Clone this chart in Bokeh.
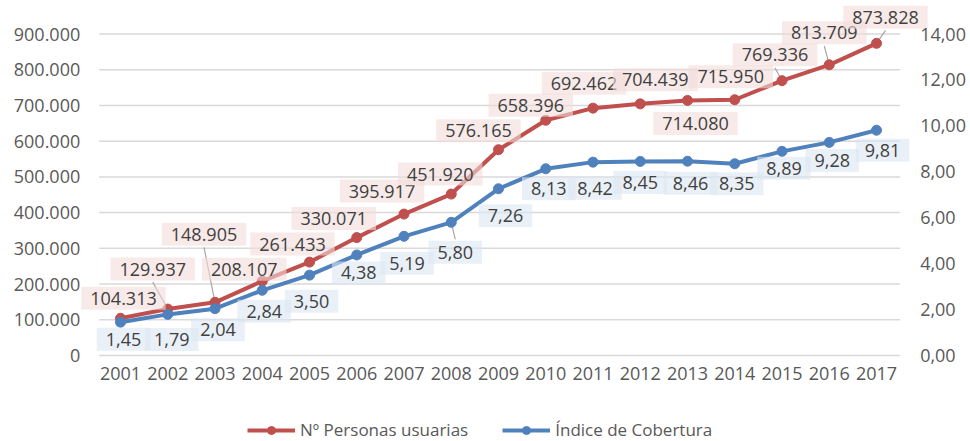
from bokeh.plotting import figure
from bokeh.models import (Range1d, LinearAxis, FixedTicker, Legend, LegendItem,
                          ColumnDataSource)
from bokeh.core.properties import value
from bokeh.embed import file_html
from bokeh.resources import INLINE

# ---------------- data ----------------
years = ["2001", "2002", "2003", "2004", "2005", "2006", "2007", "2008", "2009",
         "2010", "2011", "2012", "2013", "2014", "2015", "2016", "2017"]
personas = [104313, 129937, 148905, 208107, 261433, 330071, 395917, 451920, 576165,
            658396, 692462, 704439, 714080, 715950, 769336, 813709, 873828]
indice = [1.45, 1.79, 2.04, 2.84, 3.50, 4.38, 5.19, 5.80, 7.26,
          8.13, 8.42, 8.45, 8.46, 8.35, 8.89, 9.28, 9.81]
left_ticks = [0, 100000, 200000, 300000, 400000, 500000, 600000, 700000, 800000, 900000]
left_tick_labels = ["0", "100.000", "200.000", "300.000", "400.000", "500.000",
                    "600.000", "700.000", "800.000", "900.000"]
right_ticks = [0, 2, 4, 6, 8, 10, 12, 14]
right_tick_labels = ["0,00", "2,00", "4,00", "6,00", "8,00", "10,00", "12,00", "14,00"]
series_names = ["Nº Personas usuarias", "Índice de Cobertura"]

# ---------------- style / label placement (screen px, down positive) ----------------
RED = "#c0504d"
BLUE = "#4f81bd"
red_dx = [3, -15, -11, -18, -17, -23, -22, -11, -20, -15, -9, 15, 8, -4, -7, -5, 9]
red_dy = [-20, -40, -68, -12, -18, -19, -23, -20, -19, -15, -25, -24, 23, -23, -26, -32, -26]
red_leader = [0, 1, 1, 0, 0, 0, 0, 0, 0, 0, 0, 0, 0, 0, 1, 1, 1]
blue_dx = [3, 4, 3, 2, 2, 2, 3, 4, 7, 3, 2, 0, 3, 2, 2, 3, 6]
blue_dy = [17, 25, 21, 21, 26, 18, 27, 30, 27, 20, 26, 21, 22, 20, 17, 18, 20]
blue_leader = [0, 0, 0, 0, 0, 0, 0, 1, 0, 0, 0, 0, 0, 0, 0, 0, 0]

# canvas geometry (the whole canvas is the plotting frame; axes sit at fixed spots)
W, H = 970, 441
X0_PX, STEP_PX = 120.0, 47.25        # pixel of first category, pixels per category
Y0_PX, YTOP_PX = 355.0, 33.5         # pixel of value 0 and of top gridline
LEFT_MAX, RIGHT_MAX = 900000, 14
PX_PER_V = (Y0_PX - YTOP_PX) / LEFT_MAX
PX_PER_R = (Y0_PX - YTOP_PX) / RIGHT_MAX
GRID_X0, GRID_X1 = -0.45, 16.5
FONT = "Open Sans"

xs = list(range(len(years)))
fmt_p = [f"{v:,}".replace(",", ".") for v in personas]
fmt_i = [f"{v:.2f}".replace(".", ",") for v in indice]

x_range = Range1d(-X0_PX / STEP_PX, (W - X0_PX) / STEP_PX)
y_range = Range1d(-(H - Y0_PX) / PX_PER_V, Y0_PX / PX_PER_V)
r_range = Range1d(-(H - Y0_PX) / PX_PER_R, Y0_PX / PX_PER_R)

p = figure(width=W, height=H, output_backend="svg", toolbar_location=None,
           x_range=x_range, y_range=y_range,
           min_border=0, min_border_left=0, min_border_right=0,
           min_border_top=0, min_border_bottom=0)
p.extra_y_ranges = {"idx": r_range}
p.outline_line_color = None
p.background_fill_color = "white"
p.border_fill_color = "white"
p.xgrid.grid_line_color = None
p.ygrid.grid_line_color = None

def style_axis(ax, standoff):
    ax.axis_line_color = None
    ax.major_tick_line_color = None
    ax.minor_tick_line_color = None
    ax.major_tick_in = 0
    ax.major_tick_out = 0
    ax.minor_tick_in = 0
    ax.minor_tick_out = 0
    ax.major_label_text_font = FONT
    ax.major_label_text_font_size = "18px"
    ax.major_label_text_color = "#595959"
    ax.major_label_standoff = standoff

xax = p.xaxis[0]
xax.ticker = FixedTicker(ticks=xs)
xax.major_label_overrides = {i: y for i, y in zip(xs, years)}
xax.fixed_location = 0
style_axis(xax, 11)

lax = p.yaxis[0]
lax.ticker = FixedTicker(ticks=left_ticks)
lax.major_label_overrides = dict(zip(left_ticks, left_tick_labels))
lax.fixed_location = GRID_X0
style_axis(lax, 19)

rax = LinearAxis(y_range_name="idx", ticker=FixedTicker(ticks=right_ticks),
                 major_label_overrides=dict(zip(right_ticks, right_tick_labels)),
                 fixed_location=GRID_X1)
style_axis(rax, 20)
p.add_layout(rax, "right")

# horizontal gridlines at the left-axis ticks
p.segment(x0=[GRID_X0] * len(left_ticks), y0=left_ticks,
          x1=[GRID_X1] * len(left_ticks), y1=left_ticks,
          line_color="#d9d9d9", line_width=1.5)

# leader lines
lx0, ly0, lx1, ly1 = [], [], [], []
for i in xs:
    if red_leader[i]:
        lx0.append(i + red_dx[i] / STEP_PX)
        ly0.append(personas[i] - (red_dy[i] + 13) / PX_PER_V)
        lx1.append(i)
        ly1.append(personas[i])
p.segment(lx0, ly0, lx1, ly1, line_color="#a6a6a6", line_width=1.2)
bx0, by0, bx1, by1 = [], [], [], []
for i in xs:
    if blue_leader[i]:
        bx0.append(i + blue_dx[i] / STEP_PX)
        by0.append(indice[i] - (blue_dy[i] - 13) / PX_PER_R)
        bx1.append(i)
        by1.append(indice[i])
p.segment(bx0, by0, bx1, by1, line_color="#a6a6a6", line_width=1.2, y_range_name="idx")

rsrc = ColumnDataSource(dict(x=xs, y=personas, t=fmt_p, dx=red_dx, dy=red_dy))
bsrc = ColumnDataSource(dict(x=xs, y=indice, t=fmt_i, dx=blue_dx, dy=blue_dy))

rl = p.line("x", "y", source=rsrc, line_color=RED, line_width=4)
rc = p.scatter("x", "y", source=rsrc, size=10, fill_color=RED, line_color=RED)
bl = p.line("x", "y", source=bsrc, line_color=BLUE, line_width=4, y_range_name="idx")
bc = p.scatter("x", "y", source=bsrc, size=10, fill_color=BLUE, line_color=BLUE,
               y_range_name="idx")

common = dict(text_align="center", text_baseline="middle", text_font=value(FONT),
              text_font_size="18px", text_color="#404040",
              padding=dict(left=9, right=9, top=5, bottom=5))
p.text(x="x", y="y", text="t", x_offset="dx", y_offset="dy", source=rsrc,
       background_fill_color="#f2dcdb", background_fill_alpha=0.6, **common)
p.text(x="x", y="y", text="t", x_offset="dx", y_offset="dy", source=bsrc,
       y_range_name="idx",
       background_fill_color="#dce6f2", background_fill_alpha=0.6, **common)

legend = Legend(items=[LegendItem(label=series_names[0], renderers=[rl, rc]),
                       LegendItem(label=series_names[1], renderers=[bl, bc])],
                location=(247, 0), orientation="horizontal",
                label_text_font=FONT, label_text_font_size="17px",
                label_text_color="#595959", glyph_width=48, glyph_height=20,
                label_standoff=5, spacing=34, padding=0, margin=0,
                border_line_color=None, background_fill_alpha=0)
p.add_layout(legend, "center")

open("out.html", "w").write(file_html(p, INLINE))
